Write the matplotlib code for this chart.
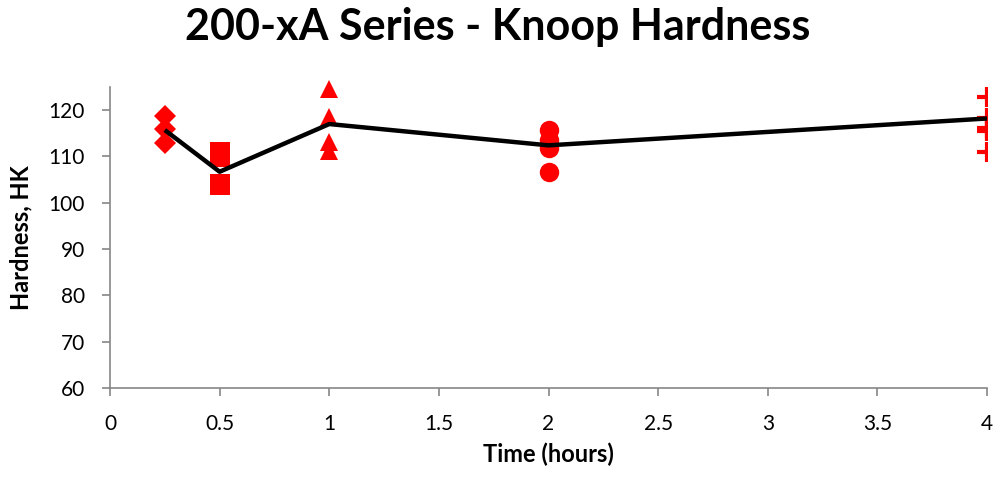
import numpy as np
import matplotlib
matplotlib.use("Agg")
import matplotlib.pyplot as plt

plt.rcParams['font.family'] = ['Lato', 'DejaVu Sans']

# individual hardness readings per exposure time
t_025 = [118.7, 115.9, 112.9]
t_05 = [110.9, 109.9, 104.0, 103.8]
t_1 = [124.5, 118.5, 113.1, 111.2]
t_2 = [115.7, 113.5, 111.8, 106.6]
t_4 = [110.9, 115.5, 116.2, 118.2, 122.8]

# average line
avg_time = [0.25, 0.5, 1, 2, 4]
avg_hk = [115.7, 106.7, 117.0, 112.4, 118.2]

red = '#ff0000'
gray = '#868686'

fig = plt.figure(figsize=(9.96, 4.78), dpi=100)
ax = fig.add_axes([110/996, (478-388)/478, (987-110)/996, (388-87)/478])

ax.plot(avg_time, avg_hk, color='black', lw=3.2, zorder=3, solid_capstyle='butt')

ax.plot([0.25]*len(t_025), t_025, 'D', color=red, ms=11, mew=0, zorder=2, clip_on=False)
ax.plot([0.5]*len(t_05), t_05, 's', color=red, ms=14.5, mew=0, zorder=2, clip_on=False)
ax.plot([1]*len(t_1), t_1, '^', color=red, ms=13, mew=0, zorder=2, clip_on=False)
ax.plot([2]*len(t_2), t_2, 'o', color=red, ms=14, mew=0, zorder=2, clip_on=False)
ax.plot([4]*len(t_4), t_4, '+', color=red, ms=15, mew=3, zorder=2, clip_on=True)

ax.set_xlim(0, 4)
ax.set_ylim(60, 125)
ax.set_xticks(np.arange(0, 4.01, 0.5))
ax.set_xticklabels(['0', '0.5', '1', '1.5', '2', '2.5', '3', '3.5', '4'])
ax.set_yticks(np.arange(60, 121, 10))

for s in ['top', 'right']:
    ax.spines[s].set_visible(False)
for s in ['left', 'bottom']:
    ax.spines[s].set_color(gray)
    ax.spines[s].set_linewidth(1.2)
ax.tick_params(axis='both', direction='out', length=6, width=1.2, color=gray,
               labelsize=15, labelcolor='black')
ax.tick_params(axis='x', pad=13)
ax.tick_params(axis='y', pad=12)

ax.set_xlabel('Time (hours)', fontsize=17, fontweight='bold', labelpad=6)
ax.set_ylabel('Hardness, HK', fontsize=17, fontweight='bold', labelpad=12)

fig.text(0.5, 1 - 27/478, '200-xA Series - Knoop Hardness', ha='center', va='center',
         fontsize=31, fontweight='bold')

fig.savefig('out.png', dpi=100)
